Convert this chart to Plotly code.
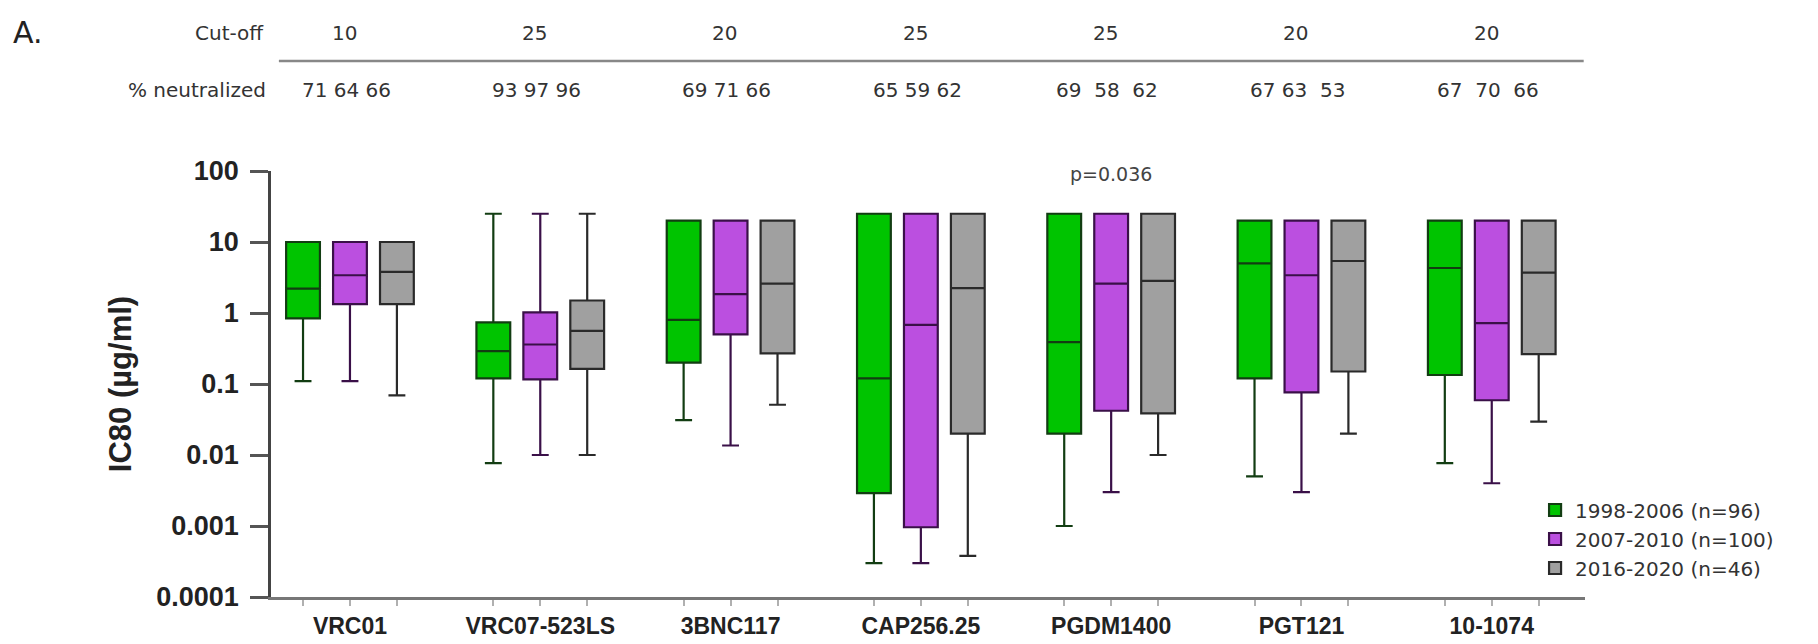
import plotly.graph_objects as go
import math

antibodies = ["VRC01", "VRC07-523LS", "3BNC117", "CAP256.25", "PGDM1400", "PGT121", "10-1074"]
cutoffs = ["10", "25", "20", "25", "25", "20", "20"]
pct_neutralized = ["71 64 66", "93 97 96", "69 71 66", "65 59 62", "69  58  62", "67 63  53", "67  70  66"]

series_names = ["1998-2006 (n=96)", "2007-2010 (n=100)", "2016-2020 (n=46)"]

g_q1 = [0.84, 0.12, 0.20, 0.0029, 0.020, 0.12, 0.134]
g_med = [2.2, 0.29, 0.80, 0.12, 0.39, 5.0, 4.3]
g_q3 = [10, 0.74, 20, 25, 25, 20, 20]
g_low = [0.11, 0.0077, 0.031, 0.0003, 0.001, 0.005, 0.0077]
g_high = [10, 25, 20, 25, 25, 20, 20]

p_q1 = [1.33, 0.116, 0.50, 0.00096, 0.042, 0.076, 0.059]
p_med = [3.4, 0.36, 1.85, 0.68, 2.6, 3.4, 0.72]
p_q3 = [10, 1.02, 20, 25, 25, 20, 20]
p_low = [0.11, 0.01, 0.0136, 0.0003, 0.003, 0.003, 0.004]
p_high = [10, 25, 20, 25, 25, 20, 20]

r_q1 = [1.33, 0.163, 0.27, 0.020, 0.0386, 0.15, 0.264]
r_med = [3.8, 0.56, 2.6, 2.24, 2.84, 5.4, 3.7]
r_q3 = [10, 1.5, 20, 25, 25, 20, 20]
r_low = [0.069, 0.01, 0.051, 0.00038, 0.01, 0.02, 0.0295]
r_high = [10, 25, 20, 25, 25, 20, 20]

y_ticks = [100, 10, 1, 0.1, 0.01, 0.001, 0.0001]
y_ticktext = ["100", "10", "1", "0.1", "0.01", "0.001", "0.0001"]

p_value_text = "p=0.036"
p_value_group = 4

fills = ["#00c400", "#bb4fe0", "#a0a0a0"]
lines = ["#123d12", "#3a1048", "#2a2a2a"]

BOXGAP = 0.26
BOXGROUPGAP = 0.28

xs = list(range(len(antibodies)))
stats = [
    (g_q1, g_med, g_q3, g_low, g_high),
    (p_q1, p_med, p_q3, p_low, p_high),
    (r_q1, r_med, r_q3, r_low, r_high),
]

fig = go.Figure()
for i, (q1, med, q3, lo, hi) in enumerate(stats):
    fig.add_trace(go.Box(
        name=series_names[i],
        x=xs, q1=q1, median=med, q3=q3, lowerfence=lo, upperfence=hi,
        boxpoints=False,
        fillcolor=fills[i],
        line=dict(color=lines[i], width=2.2),
        whiskerwidth=0.5,
        offsetgroup=str(i),
    ))

# tick positions at each box
step = (1 - BOXGAP) / 3
tickvals, ticktext = [], []
for k, name in enumerate(antibodies):
    for j in (-1, 0, 1):
        tickvals.append(k + j * step)
        ticktext.append(name if j == 0 else "")

font_txt = "DejaVu Sans, Arial, sans-serif"
font_bold = "Liberation Sans, Arial, sans-serif"

fig.update_layout(
    width=1818, height=644,
    margin=dict(l=271, r=233, t=171, b=47, autoexpand=False),
    paper_bgcolor="white", plot_bgcolor="white",
    boxmode="group", boxgap=BOXGAP, boxgroupgap=BOXGROUPGAP,
    showlegend=True,
    legend=dict(
        x=0.962, y=0.25, xanchor="left", yanchor="top",
        font=dict(family=font_txt, size=20, color="#333"),
        bgcolor="rgba(255,255,255,0)", tracegroupgap=0,
    ),
    xaxis=dict(
        type="linear", range=[-0.415, 6.49], automargin=False,
        tickmode="array", tickvals=tickvals, ticktext=ticktext,
        ticks="outside", ticklen=6, tickwidth=2, tickcolor="#b0b0b0",
        ticklabelstandoff=1,
        tickfont=dict(family=font_bold, size=23, color="#222", weight="bold"),
        showline=True, linecolor="#777", linewidth=2.5,
        showgrid=False, zeroline=False,
    ),
    yaxis=dict(
        type="log", range=[-4, 2], automargin=False,
        tickmode="array", tickvals=y_ticks, ticktext=y_ticktext,
        ticks="outside", ticklen=18, tickwidth=2.5, tickcolor="#555",
        ticklabelstandoff=6,
        tickfont=dict(family=font_bold, size=27, color="#222", weight="bold"),
        showline=True, linecolor="#444", linewidth=2.5,
        showgrid=False, zeroline=False,
        title=dict(text="IC80 (µg/ml)", standoff=16,
                   font=dict(family=font_bold, size=31, color="#222", weight="bold")),
    ),
)

# header rows
fig.add_annotation(text="A.", xref="paper", yref="paper", x=-0.198, y=1.325,
                   xanchor="left", yanchor="middle", showarrow=False,
                   font=dict(family=font_txt, size=30, color="#222"))
fig.add_annotation(text="Cut-off", xref="paper", yref="paper", x=-0.004, y=1.324,
                   xanchor="right", yanchor="middle", showarrow=False,
                   font=dict(family=font_txt, size=20, color="#333"))
fig.add_annotation(text="% neutralized", xref="paper", yref="paper", x=-0.002, y=1.19,
                   xanchor="right", yanchor="middle", showarrow=False,
                   font=dict(family=font_txt, size=20, color="#333"))
for k in range(len(antibodies)):
    fig.add_annotation(text=cutoffs[k], xref="x", yref="paper", x=xs[k] - 0.03, y=1.324,
                       xanchor="center", yanchor="middle", showarrow=False,
                       font=dict(family=font_txt, size=20, color="#333"))
    fig.add_annotation(text=pct_neutralized[k].replace(" ", "&nbsp;"), xref="x", yref="paper",
                       x=xs[k] - 0.02, y=1.19,
                       xanchor="center", yanchor="middle", showarrow=False,
                       font=dict(family=font_txt, size=20, color="#333"))
fig.add_shape(type="line", xref="paper", yref="paper", x0=0.006, x1=0.999,
              y0=1.258, y1=1.258, line=dict(color="#888", width=2.5))

fig.add_annotation(text=p_value_text, xref="x", yref="y", x=xs[p_value_group], y=math.log10(90),
                   xanchor="center", yanchor="middle", showarrow=False,
                   font=dict(family=font_txt, size=19, color="#444"))

fig.write_html(
    "out.html",
    config={"displayModeBar": False},
    post_script="document.body.style.margin='0';document.body.style.overflow='hidden';",
)
